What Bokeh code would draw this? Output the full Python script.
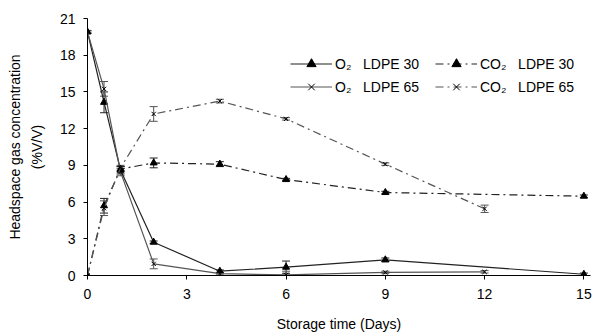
from bokeh.plotting import figure
from bokeh.models import (ColumnDataSource, Whisker, TeeHead, Legend, LegendItem,
                          FixedTicker, Range1d)
from bokeh.embed import file_html
from bokeh.resources import INLINE

# ---- data ----
days30 = [0, 0.5, 1, 2, 4, 6, 9, 15]
o2_30 = [19.9, 14.15, 8.6, 2.72, 0.35, 0.68, 1.28, 0.1]
o2_30_err = [0.1, 0.85, 0.3, 0.1, 0.1, 0.5, 0.15, 0.1]
co2_30 = [0.0, 5.7, 8.7, 9.2, 9.1, 7.84, 6.78, 6.48]
co2_30_err = [0.0, 0.6, 0.2, 0.4, 0.2, 0.1, 0.1, 0.1]

days65 = [0, 0.5, 1, 2, 4, 6, 9, 12]
o2_65 = [19.9, 15.25, 8.45, 0.95, 0.15, 0.05, 0.25, 0.3]
o2_65_err = [0.1, 0.6, 0.3, 0.4, 0.1, 0.3, 0.1, 0.1]
co2_65 = [0.0, 5.5, 8.8, 13.2, 14.25, 12.8, 9.1, 5.45]
co2_65_err = [0.0, 0.6, 0.2, 0.6, 0.15, 0.1, 0.1, 0.3]

x_ticks = [0, 3, 6, 9, 12, 15]
y_ticks = [0, 3, 6, 9, 12, 15, 18, 21]

labels = ["O\u2082   LDPE 30", "O\u2082   LDPE 65", "CO\u2082   LDPE 30", "CO\u2082   LDPE 65"]

FONT = "Liberation Sans"

p = figure(width=598, height=336, output_backend="svg", toolbar_location=None,
           x_range=Range1d(0, 15.2), y_range=Range1d(0, 21),
           min_border_left=87, min_border_right=8, min_border_top=18, min_border_bottom=61)
p.outline_line_color = None
p.xgrid.visible = False
p.ygrid.visible = False

for ax in (p.xaxis[0], p.yaxis[0]):
    ax.axis_line_color = "black"
    ax.major_tick_line_color = "black"
    ax.minor_tick_line_color = None
    ax.major_tick_in = 0
    ax.major_tick_out = 4
    ax.major_label_text_font = FONT
    ax.major_label_text_font_size = "14px"
    ax.major_label_text_color = "black"
    ax.axis_label_text_font = FONT
    ax.axis_label_text_font_style = "normal"
    ax.axis_label_text_font_size = "14px"
    ax.axis_label_text_color = "black"

p.xaxis.ticker = FixedTicker(ticks=x_ticks)
p.yaxis.ticker = FixedTicker(ticks=y_ticks)
p.xaxis.axis_label = "Storage time (Days)"
p.yaxis.axis_label = "Headspace gas concentration\n(%V/V)"
p.yaxis.axis_label_text_line_height = 1.35
p.xaxis.major_label_standoff = 9
p.xaxis.axis_label_standoff = 14
p.yaxis.major_label_standoff = 8
p.yaxis.axis_label_standoff = 12

series = [
    (days30, o2_30, o2_30_err, "solid", "triangle", 7, "#222222"),
    (days65, o2_65, o2_65_err, "solid", "x", 6, "#555555"),
    (days30, co2_30, co2_30_err, "8 4 2 4", "triangle", 7, "#222222"),
    (days65, co2_65, co2_65_err, "8 4 2 4", "x", 6, "#555555"),
]

items = []
for (xs, ys, es, dash, marker, size, col), lab in zip(series, labels):
    src = ColumnDataSource(dict(x=xs, y=ys,
                                lo=[a - b for a, b in zip(ys, es)],
                                hi=[a + b for a, b in zip(ys, es)]))
    w = Whisker(source=src, base="x", upper="hi", lower="lo",
                line_color=col, line_width=1,
                upper_head=TeeHead(size=8, line_color=col, line_width=1),
                lower_head=TeeHead(size=8, line_color=col, line_width=1))
    p.add_layout(w)
    r1 = p.line("x", "y", source=src, line_color=col, line_width=1.2, line_dash=dash)
    r2 = p.scatter("x", "y", source=src, marker=marker, size=size,
                   line_color="black", fill_color="black", line_width=1)
    items.append(LegendItem(label=lab, renderers=[r1, r2]))

# order: row1 = O2 30, CO2 30 ; row2 = O2 65, CO2 65
legend = Legend(items=[items[0], items[2], items[1], items[3]], ncols=2,
                location=(203, 177), orientation="horizontal")
legend.border_line_color = None
legend.background_fill_alpha = 0
legend.padding = 0
legend.margin = 0
legend.spacing = 0
legend.glyph_width = 42
legend.glyph_height = 23
legend.label_height = 23
legend.label_width = 100
legend.label_standoff = 3
legend.label_text_font = FONT
legend.label_text_font_size = "14px"
legend.label_text_color = "black"
p.add_layout(legend, "center")

open("out.html", "w").write(file_html(p, INLINE))
